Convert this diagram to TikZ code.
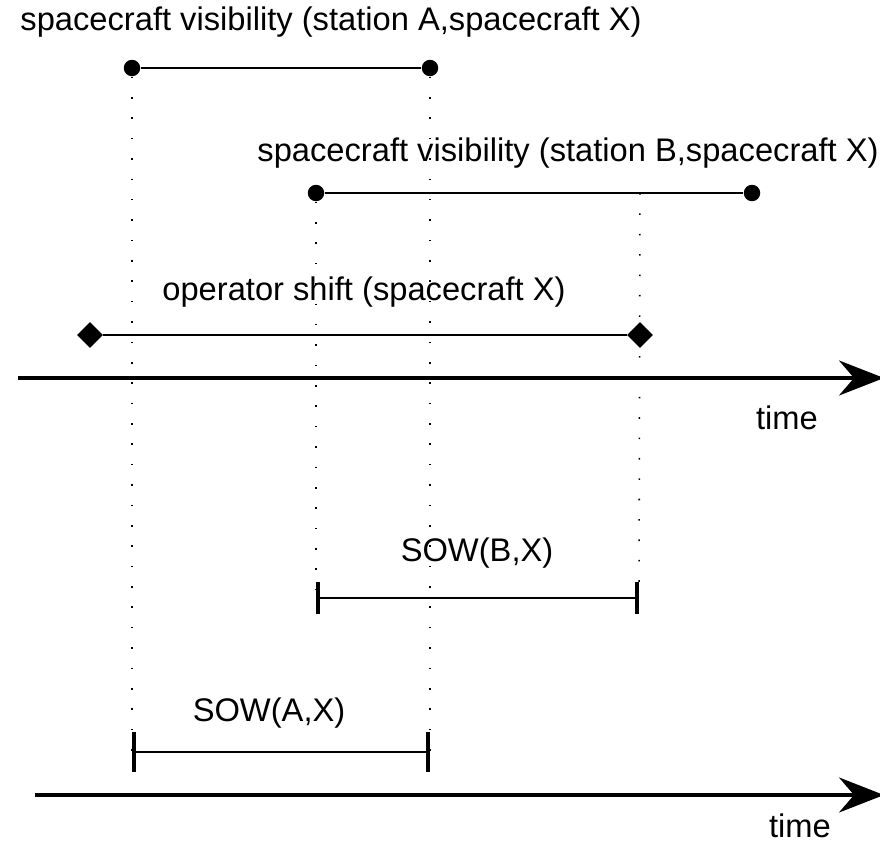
\documentclass[tikz,border=0pt]{standalone}
\usepackage{fontspec}
\setmainfont{Liberation Sans}
\usetikzlibrary{arrows.meta,shapes.geometric,positioning}
\tikzset{
  lbl/.style={font=\fontsize{18.6}{21}\selectfont,inner sep=0pt},
  span/.style={line width=1.5pt},
  timeaxis/.style={line width=1.9pt,-{Stealth[length=0.9cm,width=0.7cm,inset=0.3cm]}},
  guide/.style={line width=0.9pt,dash pattern=on 0.9pt off 10.7pt},
  enddot/.style={circle,fill=black,inner sep=0pt,minimum size=0.33cm},
  enddiam/.style={diamond,fill=black,inner sep=0pt,minimum size=0.52cm},
  sowbarB/.style={line width=1.5pt,{Bar[width=0.64cm,line width=2.2pt]}-{Bar[width=0.64cm,line width=2.2pt]}},
  sowbarA/.style={line width=1.5pt,{Bar[width=0.8cm,line width=2.2pt]}-{Bar[width=0.8cm,line width=2.2pt]}}
}

\begin{document}
\begin{tikzpicture}[x=0.02cm,y=-0.02cm]
  \useasboundingbox (0,0) rectangle (880,845);

  % visibility windows and operator shift
  \node[enddot] (visA1) at (132,68) {};
  \node[enddot] (visA2) at (430,68) {};
  \node[enddot] (visB1) at (316,193) {};
  \node[enddot] (visB2) at (752,193) {};
  \coordinate (visBcut) at (640,193);
  \node[enddiam] (shift1) at (90,335) {};
  \node[enddiam] (shift2) at (640,335) {};
  \node[lbl] (visAtxt) at (331,22) {spacecraft visibility (station A,spacecraft X)};
  \node[lbl] (visBtxt) at (568,153) {spacecraft visibility (station B,spacecraft X)};
  \node[lbl] (shifttxt) at (364,292) {operator shift (spacecraft X)};

  % time axes
  \coordinate (axisA0) at (18,378);
  \coordinate (axisA1) at (884,378);
  \coordinate (axisB0) at (35,795);
  \coordinate (axisB1) at (884,795);
  \node[lbl] (timeA) at (787,418) {time};
  \node[lbl] (timeB) at (800,826) {time};

  % SOW bars
  \coordinate (sowB1) at (316,598);
  \coordinate (sowB2) at (639,598);
  \coordinate (sowA1) at (132,752);
  \coordinate (sowA2) at (430,752);
  \node[lbl] (sowBtxt) at (477,553) {SOW(B,X)};
  \node[lbl] (sowAtxt) at (269,713) {SOW(A,X)};

  \draw[guide] (visA1) -- (sowA1);
  \draw[guide] (visA2) -- (sowA2);
  \draw[guide] (visB1) -- (sowB1);
  \draw[guide] (visBcut) -- (sowB2);

  \draw[span] (visA1) -- (visA2);
  \draw[span] (visB1) -- (visB2);
  \draw[span] (shift1) -- (shift2);
  \draw[timeaxis] (axisA0) -- (axisA1);
  \draw[timeaxis] (axisB0) -- (axisB1);
  \draw[sowbarB] (sowB1) -- (sowB2);
  \draw[sowbarA] (sowA1) -- (sowA2);
\end{tikzpicture}
\end{document}
